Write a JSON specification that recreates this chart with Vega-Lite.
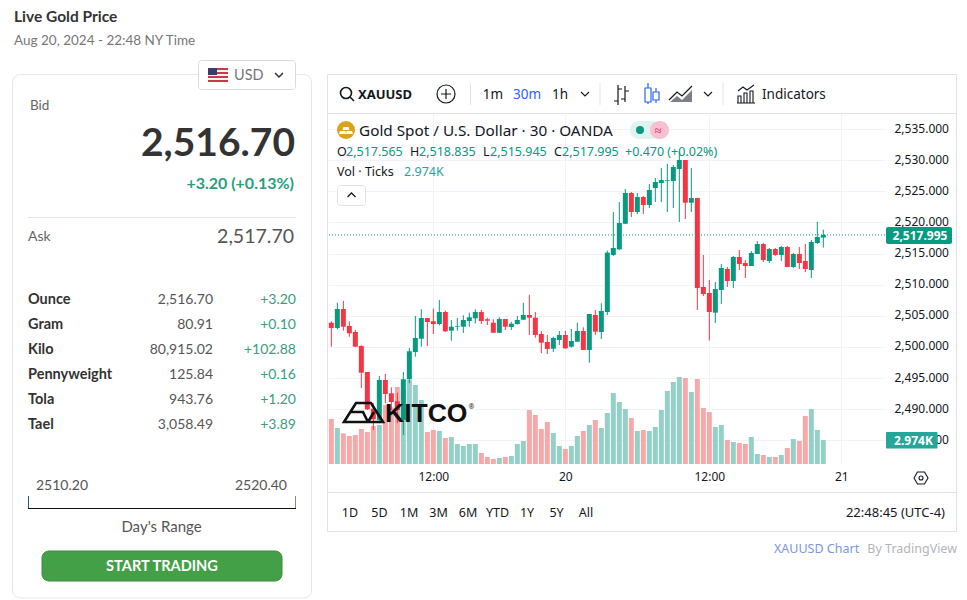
{
"$schema":"https://vega.github.io/schema/vega-lite/v6.json",
"description":"Live gold price widget with a 30 minute XAUUSD candlestick chart",
"width":557,"height":350,
"autosize":{"type":"none"},
"padding":{"left":328,"top":114,"right":82,"bottom":136},
"background":"white",
"config":{"view":{"stroke":null},"text":{"font":"Noto Sans","dy":1}},
"resolve":{"scale":{"x":"independent","y":"independent"},"axis":{"x":"independent","y":"independent"}},
"datasets":{
"candles":[
{"bar":0,"open":2503.89,"high":2504.12,"low":2500.04,"close":2503.04,"volume":5580},
{"bar":1,"open":2503.04,"high":2507.10,"low":2502.83,"close":2506.09,"volume":4464},
{"bar":2,"open":2506.09,"high":2507.38,"low":2502.61,"close":2503.25,"volume":3803},
{"bar":3,"open":2503.36,"high":2504.12,"low":2501.64,"close":2502.19,"volume":3472},
{"bar":4,"open":2502.40,"high":2502.72,"low":2499.99,"close":2500.04,"volume":3596},
{"bar":5,"open":2500.15,"high":2500.26,"low":2493.40,"close":2495.86,"volume":4340},
{"bar":6,"open":2495.97,"high":2495.97,"low":2489.87,"close":2489.98,"volume":3968},
{"bar":7,"open":2490.08,"high":2490.94,"low":2486.65,"close":2488.37,"volume":4712},
{"bar":8,"open":2488.26,"high":2495.33,"low":2487.73,"close":2494.69,"volume":4836},
{"bar":9,"open":2494.69,"high":2495.65,"low":2490.94,"close":2492.44,"volume":7316},
{"bar":10,"open":2492.55,"high":2493.51,"low":2489.87,"close":2491.15,"volume":7027},
{"bar":11,"open":2491.26,"high":2492.65,"low":2487.73,"close":2489.87,"volume":9548},
{"bar":12,"open":2488.26,"high":2495.97,"low":2485.85,"close":2494.80,"volume":9176},
{"bar":13,"open":2494.80,"high":2499.83,"low":2494.16,"close":2499.30,"volume":10416},
{"bar":14,"open":2499.18,"high":2504.97,"low":2498.43,"close":2501.43,"volume":9796},
{"bar":15,"open":2501.32,"high":2506.04,"low":2500.04,"close":2504.65,"volume":7936},
{"bar":16,"open":2504.65,"high":2504.65,"low":2500.15,"close":2504.00,"volume":3968},
{"bar":17,"open":2504.12,"high":2506.14,"low":2502.08,"close":2503.68,"volume":4216},
{"bar":18,"open":2503.68,"high":2507.54,"low":2503.47,"close":2505.61,"volume":4092},
{"bar":19,"open":2505.61,"high":2505.82,"low":2502.40,"close":2502.51,"volume":3224},
{"bar":20,"open":2502.61,"high":2504.33,"low":2501.00,"close":2503.25,"volume":3348},
{"bar":21,"open":2503.25,"high":2504.65,"low":2502.61,"close":2503.36,"volume":2480},
{"bar":22,"open":2503.25,"high":2505.08,"low":2502.24,"close":2504.33,"volume":2232},
{"bar":23,"open":2504.16,"high":2505.50,"low":2503.25,"close":2504.76,"volume":2480},
{"bar":24,"open":2504.60,"high":2506.04,"low":2503.79,"close":2505.61,"volume":2480},
{"bar":25,"open":2505.61,"high":2505.93,"low":2503.68,"close":2504.16,"volume":1364},
{"bar":26,"open":2504.44,"high":2504.69,"low":2503.52,"close":2504.21,"volume":868},
{"bar":27,"open":2503.89,"high":2504.44,"low":2502.24,"close":2502.28,"volume":620},
{"bar":28,"open":2502.28,"high":2504.76,"low":2502.24,"close":2504.49,"volume":744},
{"bar":29,"open":2504.49,"high":2504.49,"low":2502.72,"close":2503.25,"volume":868},
{"bar":30,"open":2503.20,"high":2504.05,"low":2502.72,"close":2503.73,"volume":992},
{"bar":31,"open":2503.68,"high":2504.97,"low":2503.57,"close":2504.33,"volume":2480},
{"bar":32,"open":2504.37,"high":2507.10,"low":2504.33,"close":2505.13,"volume":2852},
{"bar":33,"open":2505.13,"high":2508.39,"low":2501.92,"close":2504.69,"volume":6696},
{"bar":34,"open":2504.69,"high":2505.61,"low":2501.48,"close":2501.92,"volume":6076},
{"bar":35,"open":2502.08,"high":2502.56,"low":2498.98,"close":2500.68,"volume":4340},
{"bar":36,"open":2500.79,"high":2501.92,"low":2498.86,"close":2499.67,"volume":5208},
{"bar":37,"open":2499.71,"high":2501.64,"low":2499.18,"close":2501.43,"volume":3844},
{"bar":38,"open":2501.11,"high":2502.56,"low":2500.31,"close":2501.92,"volume":2232},
{"bar":39,"open":2501.92,"high":2502.56,"low":2499.67,"close":2499.78,"volume":1860},
{"bar":40,"open":2500.04,"high":2502.88,"low":2499.88,"close":2500.95,"volume":2232},
{"bar":41,"open":2500.84,"high":2503.89,"low":2500.79,"close":2502.56,"volume":3472},
{"bar":42,"open":2502.56,"high":2503.15,"low":2499.51,"close":2499.51,"volume":4092},
{"bar":43,"open":2499.51,"high":2505.29,"low":2497.47,"close":2505.29,"volume":4836},
{"bar":44,"open":2505.13,"high":2505.93,"low":2501.92,"close":2502.45,"volume":5456},
{"bar":45,"open":2502.40,"high":2507.01,"low":2501.27,"close":2505.77,"volume":4464},
{"bar":46,"open":2505.61,"high":2515.46,"low":2505.13,"close":2515.14,"volume":6324},
{"bar":47,"open":2514.77,"high":2521.67,"low":2514.61,"close":2515.89,"volume":8804},
{"bar":48,"open":2515.68,"high":2523.28,"low":2515.57,"close":2519.91,"volume":7688},
{"bar":49,"open":2519.79,"high":2525.37,"low":2519.75,"close":2524.73,"volume":6820},
{"bar":50,"open":2524.73,"high":2524.89,"low":2520.87,"close":2521.67,"volume":5704},
{"bar":51,"open":2521.67,"high":2524.73,"low":2521.35,"close":2524.08,"volume":4092},
{"bar":52,"open":2524.08,"high":2524.24,"low":2521.35,"close":2522.80,"volume":4216},
{"bar":53,"open":2522.80,"high":2526.17,"low":2522.32,"close":2525.21,"volume":4092},
{"bar":54,"open":2525.53,"high":2527.14,"low":2523.28,"close":2526.49,"volume":4588},
{"bar":55,"open":2526.33,"high":2528.74,"low":2523.28,"close":2526.81,"volume":6696},
{"bar":56,"open":2526.65,"high":2529.39,"low":2521.67,"close":2526.77,"volume":9052},
{"bar":57,"open":2526.65,"high":2529.22,"low":2522.32,"close":2528.90,"volume":10168},
{"bar":58,"open":2528.58,"high":2531.47,"low":2520.07,"close":2530.03,"volume":10788},
{"bar":59,"open":2530.03,"high":2530.03,"low":2520.55,"close":2523.17,"volume":10664},
{"bar":60,"open":2523.17,"high":2528.74,"low":2521.67,"close":2523.92,"volume":8928},
{"bar":61,"open":2523.92,"high":2523.97,"low":2505.93,"close":2509.47,"volume":10540},
{"bar":62,"open":2509.63,"high":2514.77,"low":2508.18,"close":2508.50,"volume":6944},
{"bar":63,"open":2508.66,"high":2510.75,"low":2501.03,"close":2505.61,"volume":6448},
{"bar":64,"open":2505.50,"high":2510.43,"low":2503.84,"close":2509.31,"volume":4588},
{"bar":65,"open":2509.14,"high":2513.32,"low":2506.90,"close":2512.68,"volume":4836},
{"bar":66,"open":2512.52,"high":2512.84,"low":2509.63,"close":2510.59,"volume":2976},
{"bar":67,"open":2510.59,"high":2514.61,"low":2509.47,"close":2514.45,"volume":2728},
{"bar":68,"open":2514.45,"high":2515.57,"low":2512.36,"close":2513.32,"volume":2604},
{"bar":69,"open":2513.48,"high":2513.96,"low":2511.07,"close":2513.00,"volume":2480},
{"bar":70,"open":2513.00,"high":2515.41,"low":2513.00,"close":2515.09,"volume":3348},
{"bar":71,"open":2514.93,"high":2517.02,"low":2514.93,"close":2516.53,"volume":1240},
{"bar":72,"open":2516.53,"high":2516.69,"low":2513.64,"close":2513.96,"volume":1116},
{"bar":73,"open":2513.80,"high":2515.89,"low":2513.48,"close":2515.73,"volume":868},
{"bar":74,"open":2515.73,"high":2515.89,"low":2514.61,"close":2514.77,"volume":868},
{"bar":75,"open":2514.77,"high":2516.21,"low":2513.80,"close":2516.05,"volume":1116},
{"bar":76,"open":2516.05,"high":2516.21,"low":2512.84,"close":2512.84,"volume":1984},
{"bar":77,"open":2512.84,"high":2515.09,"low":2512.68,"close":2514.93,"volume":3100},
{"bar":78,"open":2514.93,"high":2516.05,"low":2512.52,"close":2513.48,"volume":2852},
{"bar":79,"open":2513.80,"high":2516.53,"low":2512.04,"close":2512.52,"volume":5952},
{"bar":80,"open":2512.36,"high":2517.18,"low":2511.07,"close":2516.86,"volume":6820},
{"bar":81,"open":2516.69,"high":2520.07,"low":2516.53,"close":2517.66,"volume":4216},
{"bar":82,"open":2517.565,"high":2518.835,"low":2515.945,"close":2517.995,"volume":2974}
],
"quotes":[
{"unit":"Ounce","price":"2,516.70","change":"+3.20"},
{"unit":"Gram","price":"80.91","change":"+0.10"},
{"unit":"Kilo","price":"80,915.02","change":"+102.88"},
{"unit":"Pennyweight","price":"125.84","change":"+0.16"},
{"unit":"Tola","price":"943.76","change":"+1.20"},
{"unit":"Tael","price":"3,058.49","change":"+3.89"}
],
"ranges":[{"range":"1D"},{"range":"5D"},{"range":"1M"},{"range":"3M"},{"range":"6M"},{"range":"YTD"},{"range":"1Y"},{"range":"5Y"},{"range":"All"}]
},
"layer":[
{"layer":[
{"data":{"values":[{"box":"card"}]},"mark":{"type":"rect","fill":"transparent","stroke":"#e3e6e8","cornerRadius":8},"encoding":{"x":{"datum":12.5,"axis":null,"scale":{"domain":[328,885],"nice":false,"zero":false}},"x2":{"datum":311.5},"y":{"datum":74.5,"axis":null,"scale":{"domain":[114,464],"reverse":true,"nice":false,"zero":false}},"y2":{"datum":598}}},
{"data":{"values":[{"box":"frame"}]},"mark":{"type":"rect","fill":"transparent","stroke":"#e0e3eb"},"encoding":{"x":{"datum":327.5},"x2":{"datum":956.5},"y":{"datum":74.5},"y2":{"datum":531.5}}},
{"data":{"values":[{"box":"toolbar"}]},"mark":{"type":"rule","color":"#e0e3eb"},"encoding":{"x":{"datum":328},"x2":{"datum":956},"y":{"datum":113.5}}},
{"data":{"values":[{"box":"footer"}]},"mark":{"type":"rule","color":"#e0e3eb"},"encoding":{"x":{"datum":328},"x2":{"datum":956},"y":{"datum":492.5}}},
{"data":{"values":[{"box":"sep1"}]},"mark":{"type":"rule","color":"#e0e3eb"},"encoding":{"x":{"datum":470.5},"y":{"datum":83},"y2":{"datum":105}}},
{"data":{"values":[{"box":"sep2"}]},"mark":{"type":"rule","color":"#e0e3eb"},"encoding":{"x":{"datum":600},"y":{"datum":83},"y2":{"datum":105}}},
{"data":{"values":[{"box":"sep3"}]},"mark":{"type":"rule","color":"#e0e3eb"},"encoding":{"x":{"datum":723},"y":{"datum":83},"y2":{"datum":105}}},
{"data":{"values":[{"box":"sep4"}]},"mark":{"type":"rule","color":"#e3e6e8"},"encoding":{"x":{"datum":28},"x2":{"datum":296},"y":{"datum":217.5}}}
]},
{"data":{"name":"candles"},
 "mark":{"type":"bar","size":5},
 "encoding":{
  "x":{"field":"bar","type":"quantitative","axis":null,"scale":{"domain":[-0.555,92.28],"nice":false,"zero":false,"padding":0}},
  "y":{"field":"volume","type":"quantitative","axis":null,"scale":{"domain":[0,43400],"nice":false}},
  "color":{"condition":{"test":"datum.close>=datum.open","value":"#94D0C8"},"value":"#F6A9A8"}}},
{"layer":[
 {"data":{"name":"candles"},
  "mark":{"type":"rule","strokeWidth":1},
  "encoding":{
   "x":{"field":"bar","type":"quantitative","scale":{"domain":[-0.555,92.28],"nice":false,"zero":false,"padding":0},
    "axis":{"orient":"bottom","title":null,"values":[17,39,63,85],"labelExpr":"datum.value==39?'20':datum.value==85?'21':'12:00'","grid":true,"gridColor":"#f0f3fa","ticks":false,"domain":false,"labelFontSize":12,"labelFont":"Noto Sans","labelColor":"#131722","labelPadding":7,"labelFlush":false,"labelOverlap":false}},
   "y":{"field":"low","type":"quantitative","scale":{"domain":[2481.19,2537.42],"nice":false,"zero":false},
    "axis":{"orient":"right","title":null,"values":[2485,2490,2495,2500,2505,2510,2515,2520,2525,2530,2535],"tickCount":11,"format":",.3f","grid":true,"gridColor":"#f0f3fa","ticks":false,"domain":false,"labelFontSize":12,"labelFont":"Noto Sans","labelColor":"#131722","labelPadding":9,"labelOverlap":false,"labelOffset":-1,"labelFlush":false}},
   "y2":{"field":"high"},
   "color":{"condition":{"test":"datum.close>=datum.open","value":"#089981"},"value":"#F23645"}}},
 {"data":{"name":"candles"},
  "mark":{"type":"bar","size":5},
  "encoding":{
   "x":{"field":"bar","type":"quantitative"},
   "y":{"field":"open","type":"quantitative"},
   "y2":{"field":"close"},
   "color":{"condition":{"test":"datum.close>=datum.open","value":"#089981"},"value":"#F23645"}}},
 {"data":{"values":[{"last":2517.995}]},
  "mark":{"type":"rule","color":"#089981","strokeDash":[1,2],"strokeWidth":1},
  "encoding":{"y":{"field":"last","type":"quantitative"}}}
]},
{"data":{"name":"quotes"},
 "encoding":{"y":{"field":"unit","type":"nominal","sort":null,"axis":null,"scale":{"type":"point","domain":["Ounce","Gram","Kilo","Pennyweight","Tola","Tael"],"range":[185,310],"padding":0}}},
 "layer":[
 {"mark":{"type":"text","align":"left","fontSize":14.5,"fontWeight":700,"font":"Lato","color":"#333333"},"encoding":{"x":{"datum":28,"axis":null,"scale":{"domain":[328,885],"nice":false,"zero":false}},"text":{"field":"unit"}}},
 {"mark":{"type":"text","align":"right","fontSize":14,"font":"Lato","color":"#555555"},"encoding":{"x":{"datum":213},"text":{"field":"price"}}},
 {"mark":{"type":"text","align":"right","fontSize":14,"font":"Lato","color":"#3a9d7e"},"encoding":{"x":{"datum":296},"text":{"field":"change"}}}
]},
{"data":{"name":"ranges"},
 "mark":{"type":"text","fontSize":12.5,"color":"#131722"},
 "encoding":{
  "x":{"field":"range","type":"nominal","sort":null,"axis":null,"scale":{"type":"point","domain":["1D","5D","1M","3M","6M","YTD","1Y","5Y","All"],"range":[22,258],"padding":0}},
  "y":{"datum":512,"axis":null,"scale":{"domain":[114,464],"reverse":true,"nice":false,"zero":false}},
  "text":{"field":"range"}}},
{"layer":[
{"data":{"values":[{"label":"Live Gold Price"}]},"mark":{"type":"text","align":"left","font":"Lato","fontSize":15.5,"fontWeight":700,"color":"#333333"},"encoding":{"x":{"datum":14,"axis":null,"scale":{"domain":[328,885],"nice":false,"zero":false}},"y":{"datum":16,"axis":null,"scale":{"domain":[114,464],"reverse":true,"nice":false,"zero":false}},"text":{"field":"label"}}},
{"data":{"values":[{"label":"Aug 20, 2024 - 22:48 NY Time"}]},"mark":{"type":"text","align":"left","font":"Lato","fontSize":13.5,"color":"#777777"},"encoding":{"x":{"datum":14},"y":{"datum":40},"text":{"field":"label"}}},
{"data":{"values":[{"box":"usd"}]},"mark":{"type":"rect","fill":"white","stroke":"#d9dcdf","cornerRadius":3},"encoding":{"x":{"datum":198.5},"x2":{"datum":295.5},"y":{"datum":60.5},"y2":{"datum":89.5}}},
{"data":{"values":[{"icon":"flag"}]},"mark":{"type":"point","shape":"M-10,-7H10V7H-10Z","size":4,"filled":true,"opacity":1,"color":"#f1f1f1"},"encoding":{"x":{"datum":218},"y":{"datum":75}}},
{"data":{"values":[{"icon":"flag stripes"}]},"mark":{"type":"point","shape":"M-10,-7H10V-5H-10ZM-10,-3H10V-1H-10ZM-10,1H10V3H-10ZM-10,5H10V7H-10Z","size":4,"filled":true,"opacity":1,"color":"#c8394b"},"encoding":{"x":{"datum":218},"y":{"datum":75}}},
{"data":{"values":[{"icon":"flag canton"}]},"mark":{"type":"point","shape":"M-10,-7H-1V0H-10Z","size":4,"filled":true,"opacity":1,"color":"#3c3b6e"},"encoding":{"x":{"datum":218},"y":{"datum":75}}},
{"data":{"values":[{"label":"USD"}]},"mark":{"type":"text","align":"left","font":"Lato","fontSize":14.5,"color":"#777777"},"encoding":{"x":{"datum":234},"y":{"datum":75},"text":{"field":"label"}}},
{"data":{"values":[{"icon":"usd chevron"}]},"mark":{"type":"point","shape":"M-4,-2L0,2L4,-2","size":4,"filled":false,"opacity":1,"strokeWidth":1.5,"color":"#333333"},"encoding":{"x":{"datum":279},"y":{"datum":75}}},
{"data":{"values":[{"label":"Bid"}]},"mark":{"type":"text","align":"left","font":"Lato","fontSize":13.5,"color":"#666666"},"encoding":{"x":{"datum":30},"y":{"datum":105},"text":{"field":"label"}}},
{"data":{"values":[{"label":"2,516.70"}]},"mark":{"type":"text","align":"right","font":"Lato","fontSize":39,"fontWeight":700,"color":"#333333"},"encoding":{"x":{"datum":295},"y":{"datum":143},"text":{"field":"label"}}},
{"data":{"values":[{"label":"+3.20 (+0.13%)"}]},"mark":{"type":"text","align":"right","font":"Lato","fontSize":16,"fontWeight":700,"color":"#2a9d7f"},"encoding":{"x":{"datum":294},"y":{"datum":183},"text":{"field":"label"}}},
{"data":{"values":[{"label":"Ask"}]},"mark":{"type":"text","align":"left","font":"Lato","fontSize":14,"color":"#666666"},"encoding":{"x":{"datum":28},"y":{"datum":236},"text":{"field":"label"}}},
{"data":{"values":[{"label":"2,517.70"}]},"mark":{"type":"text","align":"right","font":"Lato","fontSize":19.5,"color":"#555555"},"encoding":{"x":{"datum":294},"y":{"datum":236},"text":{"field":"label"}}},
{"data":{"values":[{"label":"2510.20"}]},"mark":{"type":"text","align":"left","font":"Lato","fontSize":14,"color":"#555555"},"encoding":{"x":{"datum":36},"y":{"datum":485},"text":{"field":"label"}}},
{"data":{"values":[{"label":"2520.40"}]},"mark":{"type":"text","align":"right","font":"Lato","fontSize":14,"color":"#555555"},"encoding":{"x":{"datum":287},"y":{"datum":485},"text":{"field":"label"}}},
{"data":{"values":[{"box":"range line"}]},"mark":{"type":"rule","color":"#111111","strokeWidth":1},"encoding":{"x":{"datum":28},"x2":{"datum":296},"y":{"datum":508.5}}},
{"data":{"values":[{"box":"range low"}]},"mark":{"type":"rule","color":"#1f5f7a","strokeWidth":1},"encoding":{"x":{"datum":28.5},"y":{"datum":496},"y2":{"datum":508}}},
{"data":{"values":[{"box":"range high"}]},"mark":{"type":"rule","color":"#8a8a7a","strokeWidth":1},"encoding":{"x":{"datum":295.5},"y":{"datum":496},"y2":{"datum":508}}},
{"data":{"values":[{"label":"Day's Range"}]},"mark":{"type":"text","font":"Lato","fontSize":15,"color":"#555555"},"encoding":{"x":{"datum":161.5},"y":{"datum":526},"text":{"field":"label"}}},
{"data":{"values":[{"box":"button"}]},"mark":{"type":"rect","fill":"#43a047","stroke":"#3b8a3f","cornerRadius":7},"encoding":{"x":{"datum":42},"x2":{"datum":282},"y":{"datum":551},"y2":{"datum":581}}},
{"data":{"values":[{"label":"START TRADING"}]},"mark":{"type":"text","font":"Lato","fontSize":14.6,"fontWeight":700,"color":"white"},"encoding":{"x":{"datum":162},"y":{"datum":566},"text":{"field":"label"}}},
{"data":{"values":[{"icon":"search"}]},"mark":{"type":"point","shape":"M4.5,-1A5.5,5.5 0 1,0 -6.5,-1A5.5,5.5 0 1,0 4.5,-1ZM3,3L7,7","size":4,"filled":false,"opacity":1,"strokeWidth":1.6,"color":"#131722"},"encoding":{"x":{"datum":347},"y":{"datum":94}}},
{"data":{"values":[{"label":"XAUUSD"}]},"mark":{"type":"text","align":"left","fontSize":13,"fontWeight":700,"color":"#131722"},"encoding":{"x":{"datum":358},"y":{"datum":94},"text":{"field":"label"}}},
{"data":{"values":[{"icon":"compare"}]},"mark":{"type":"point","shape":"M9,0A9,9 0 1,0 -9,0A9,9 0 1,0 9,0ZM-5,0H5M0,-5V5","size":4,"filled":false,"opacity":1,"strokeWidth":1.2,"color":"#131722"},"encoding":{"x":{"datum":446},"y":{"datum":94}}},
{"data":{"values":[{"label":"1m"}]},"mark":{"type":"text","fontSize":13.5,"color":"#131722"},"encoding":{"x":{"datum":493},"y":{"datum":94},"text":{"field":"label"}}},
{"data":{"values":[{"label":"30m"}]},"mark":{"type":"text","fontSize":13.5,"color":"#2962ff"},"encoding":{"x":{"datum":527},"y":{"datum":94},"text":{"field":"label"}}},
{"data":{"values":[{"label":"1h"}]},"mark":{"type":"text","fontSize":13.5,"color":"#131722"},"encoding":{"x":{"datum":560},"y":{"datum":94},"text":{"field":"label"}}},
{"data":{"values":[{"icon":"interval chevron"}]},"mark":{"type":"point","shape":"M-4,-2L0,2L4,-2","size":4,"filled":false,"opacity":1,"strokeWidth":1.1,"color":"#131722"},"encoding":{"x":{"datum":585},"y":{"datum":94}}},
{"data":{"values":[{"icon":"bars"}]},"mark":{"type":"point","shape":"M-3,-9V11M-3,-5H1M-3,7H-7M4,-8V8M4,-3H8M4,5H0","size":4,"filled":false,"opacity":1,"strokeWidth":1.2,"color":"#131722"},"encoding":{"x":{"datum":621},"y":{"datum":94}}},
{"data":{"values":[{"icon":"candles"}]},"mark":{"type":"point","shape":"M-4,-11V-6M-4,8V10M-7,-6H-1V8H-7ZM4,-6V-2M4,6V9M1,-2H7V6H1Z","size":4,"filled":false,"opacity":1,"strokeWidth":1.2,"color":"#2962ff"},"encoding":{"x":{"datum":652},"y":{"datum":94}}},
{"data":{"values":[{"icon":"area fill"}]},"mark":{"type":"point","shape":"M-11,8L-4,2L1,6L11,-4V8Z","size":4,"filled":true,"opacity":0.55,"color":"#131722"},"encoding":{"x":{"datum":681},"y":{"datum":94}}},
{"data":{"values":[{"icon":"area line"}]},"mark":{"type":"point","shape":"M-12,6L-4,-2L1,2L11,-8","size":4,"filled":false,"opacity":1,"strokeWidth":1.2,"color":"#131722"},"encoding":{"x":{"datum":681},"y":{"datum":94}}},
{"data":{"values":[{"icon":"type chevron"}]},"mark":{"type":"point","shape":"M-4,-2L0,2L4,-2","size":4,"filled":false,"opacity":1,"strokeWidth":1.1,"color":"#131722"},"encoding":{"x":{"datum":708},"y":{"datum":94}}},
{"data":{"values":[{"icon":"indicators"}]},"mark":{"type":"point","shape":"M-8,-3L-3,-7L1,-4L8,-9M-8,9V2H-5V9ZM-2,9V-1H1V9ZM4,9V-3H7V9ZM-9,9H9","size":4,"filled":false,"opacity":1,"strokeWidth":1.1,"color":"#131722"},"encoding":{"x":{"datum":746},"y":{"datum":94}}},
{"data":{"values":[{"label":"Indicators"}]},"mark":{"type":"text","align":"left","fontSize":13.5,"color":"#131722"},"encoding":{"x":{"datum":762},"y":{"datum":94},"text":{"field":"label"}}},
{"data":{"values":[{"icon":"coin"}]},"mark":{"type":"point","shape":"circle","size":324,"filled":true,"opacity":1,"color":"#dba21e"},"encoding":{"x":{"datum":346},"y":{"datum":130}}},
{"data":{"values":[{"icon":"coin bars"}]},"mark":{"type":"point","shape":"M-2.5,-3H2.5L3.5,0H-3.5ZM-6,1H-0.5L0,4H-7ZM0.5,1H6L7,4H0Z","size":4,"filled":true,"opacity":1,"color":"white"},"encoding":{"x":{"datum":346},"y":{"datum":130}}},
{"data":{"values":[{"label":"Gold Spot / U.S. Dollar · 30 · OANDA"}]},"mark":{"type":"text","align":"left","fontSize":15.3,"color":"#131722"},"encoding":{"x":{"datum":359},"y":{"datum":130},"text":{"field":"label"}}},
{"data":{"values":[{"box":"pill left"}]},"mark":{"type":"rect","fill":"#dff3ef","cornerRadius":9},"encoding":{"x":{"datum":630},"x2":{"datum":660},"y":{"datum":121},"y2":{"datum":139}}},
{"data":{"values":[{"box":"pill right"}]},"mark":{"type":"rect","fill":"#f7c0d3","cornerRadius":9},"encoding":{"x":{"datum":650},"x2":{"datum":669},"y":{"datum":121},"y2":{"datum":139}}},
{"data":{"values":[{"icon":"pill dot"}]},"mark":{"type":"point","shape":"circle","size":64,"filled":true,"opacity":1,"color":"#089981"},"encoding":{"x":{"datum":640},"y":{"datum":130}}},
{"data":{"values":[{"label":"≈"}]},"mark":{"type":"text","fontSize":13,"color":"#d81b60"},"encoding":{"x":{"datum":658},"y":{"datum":130},"text":{"field":"label"}}},
{"data":{"values":[{"label":"O"}]},"mark":{"type":"text","align":"left","fontSize":12.5,"color":"#131722"},"encoding":{"x":{"datum":337},"y":{"datum":151},"text":{"field":"label"}}},
{"data":{"values":[{"label":"2,517.565"}]},"mark":{"type":"text","align":"left","fontSize":12.5,"color":"#089981"},"encoding":{"x":{"datum":346},"y":{"datum":151},"text":{"field":"label"}}},
{"data":{"values":[{"label":"H"}]},"mark":{"type":"text","align":"left","fontSize":12.5,"color":"#131722"},"encoding":{"x":{"datum":410},"y":{"datum":151},"text":{"field":"label"}}},
{"data":{"values":[{"label":"2,518.835"}]},"mark":{"type":"text","align":"left","fontSize":12.5,"color":"#089981"},"encoding":{"x":{"datum":419},"y":{"datum":151},"text":{"field":"label"}}},
{"data":{"values":[{"label":"L"}]},"mark":{"type":"text","align":"left","fontSize":12.5,"color":"#131722"},"encoding":{"x":{"datum":483},"y":{"datum":151},"text":{"field":"label"}}},
{"data":{"values":[{"label":"2,515.945"}]},"mark":{"type":"text","align":"left","fontSize":12.5,"color":"#089981"},"encoding":{"x":{"datum":490},"y":{"datum":151},"text":{"field":"label"}}},
{"data":{"values":[{"label":"C"}]},"mark":{"type":"text","align":"left","fontSize":12.5,"color":"#131722"},"encoding":{"x":{"datum":554},"y":{"datum":151},"text":{"field":"label"}}},
{"data":{"values":[{"label":"2,517.995"}]},"mark":{"type":"text","align":"left","fontSize":12.5,"color":"#089981"},"encoding":{"x":{"datum":562},"y":{"datum":151},"text":{"field":"label"}}},
{"data":{"values":[{"label":"+0.470 (+0.02%)"}]},"mark":{"type":"text","align":"left","fontSize":12.5,"color":"#089981"},"encoding":{"x":{"datum":625},"y":{"datum":151},"text":{"field":"label"}}},
{"data":{"values":[{"label":"Vol · Ticks"}]},"mark":{"type":"text","align":"left","fontSize":12.5,"color":"#131722"},"encoding":{"x":{"datum":337},"y":{"datum":171},"text":{"field":"label"}}},
{"data":{"values":[{"label":"2.974K"}]},"mark":{"type":"text","align":"left","fontSize":12.5,"color":"#26a69a"},"encoding":{"x":{"datum":404},"y":{"datum":171},"text":{"field":"label"}}},
{"data":{"values":[{"box":"collapse"}]},"mark":{"type":"rect","fill":"white","stroke":"#e0e3eb","cornerRadius":3},"encoding":{"x":{"datum":337.5},"x2":{"datum":365.5},"y":{"datum":185.5},"y2":{"datum":205.5}}},
{"data":{"values":[{"icon":"collapse chevron"}]},"mark":{"type":"point","shape":"M-4,2L0,-2L4,2","size":4,"filled":false,"opacity":1,"strokeWidth":1.3,"color":"#131722"},"encoding":{"x":{"datum":351.5},"y":{"datum":195}}},
{"data":{"values":[{"box":"price tag"}]},"mark":{"type":"rect","fill":"#089981","cornerRadius":2},"encoding":{"x":{"datum":886},"x2":{"datum":952},"y":{"datum":227},"y2":{"datum":244}}},
{"data":{"values":[{"label":"2,517.995"}]},"mark":{"type":"text","fontSize":12,"fontWeight":700,"color":"white"},"encoding":{"x":{"datum":920},"y":{"datum":235},"text":{"field":"label"}}},
{"data":{"values":[{"box":"volume tag"}]},"mark":{"type":"rect","fill":"#26a69a","cornerRadius":1},"encoding":{"x":{"datum":886},"x2":{"datum":937.5},"y":{"datum":432},"y2":{"datum":448.5}}},
{"data":{"values":[{"label":"2.974K"}]},"mark":{"type":"text","fontSize":12,"fontWeight":700,"color":"white"},"encoding":{"x":{"datum":913.5},"y":{"datum":440},"text":{"field":"label"}}},
{"data":{"values":[{"icon":"settings"}]},"mark":{"type":"point","shape":"M-7,0L-3.5,-6H3.5L7,0L3.5,6H-3.5ZM2,0A2,2 0 1,0 -2,0A2,2 0 1,0 2,0Z","size":4,"filled":false,"opacity":1,"strokeWidth":1.1,"color":"#131722"},"encoding":{"x":{"datum":921},"y":{"datum":478}}},
{"data":{"values":[{"label":"22:48:45 (UTC-4)"}]},"mark":{"type":"text","align":"right","fontSize":13,"color":"#131722"},"encoding":{"x":{"datum":945},"y":{"datum":512},"text":{"field":"label"}}},
{"data":{"values":[{"label":"XAUUSD Chart"}]},"mark":{"type":"text","align":"left","fontSize":12.5,"color":"#7b96e8"},"encoding":{"x":{"datum":774},"y":{"datum":548},"text":{"field":"label"}}},
{"data":{"values":[{"label":"By TradingView"}]},"mark":{"type":"text","align":"right","fontSize":12.5,"color":"#b2b5be"},"encoding":{"x":{"datum":957},"y":{"datum":548},"text":{"field":"label"}}},
{"data":{"values":[{"icon":"logo"}]},"mark":{"type":"point","shape":"M-21,9L-9,-10H6L18,9ZM-14,-1H-2L3,9M3,9L9,-1","size":4,"filled":false,"opacity":1,"strokeWidth":2.6,"color":"#111111"},"encoding":{"x":{"datum":365},"y":{"datum":413}}},
{"data":{"values":[{"label":"KITCO"}]},"mark":{"type":"text","align":"left","font":"Liberation Sans","fontSize":26.5,"fontWeight":700,"color":"#111111"},"encoding":{"x":{"datum":385},"y":{"datum":413},"text":{"field":"label"}}},
{"data":{"values":[{"label":"®"}]},"mark":{"type":"text","fontSize":7,"color":"#111111"},"encoding":{"x":{"datum":471.5},"y":{"datum":406},"text":{"field":"label"}}}
]}
]
}
